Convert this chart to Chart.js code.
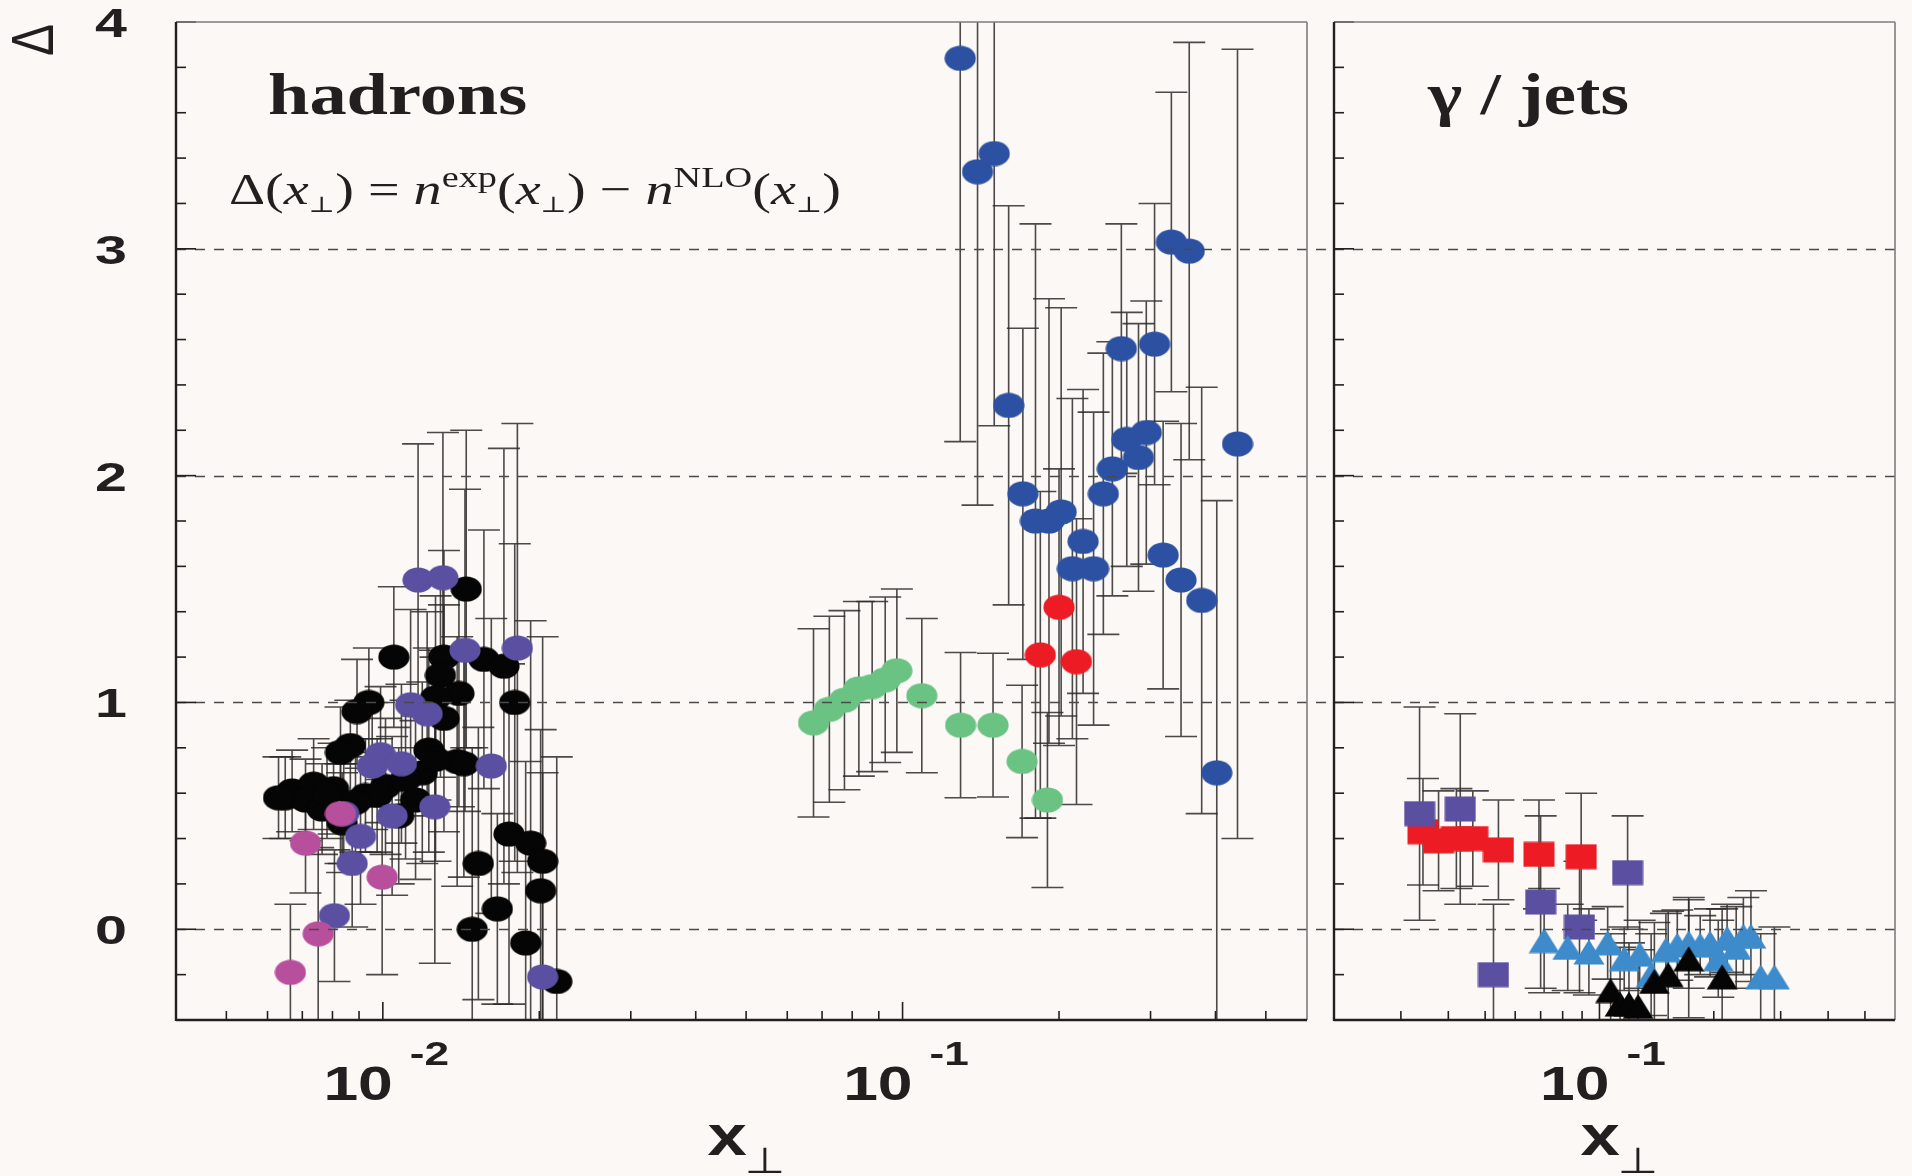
<!DOCTYPE html>
<html>
<head>
<meta charset="utf-8">
<title>Δ(x⊥) — hadrons and γ / jets</title>
<script src="https://cdn.jsdelivr.net/npm/chart.js@4.4.1/dist/chart.umd.min.js"></script>
<style>
  html, body { margin: 0; padding: 0; background: #fbf8f5; }
  #wrap { position: relative; width: 1912px; height: 1176px; }
  canvas { position: absolute; left: 0; top: 0; }
</style>
</head>
<body>
<div id="wrap">
  <canvas id="hadronChart" width="1912" height="1176"></canvas>
  <canvas id="jetChart" width="1912" height="1176"></canvas>
</div>
<script>
// ---- hadrons: low-energy cluster (black / purple / magenta circles)
const hadronBlackX = [0.01447, 0.01050, 0.01311, 0.01291, 0.01565, 0.01710, 0.01401, 0.01263, 0.01794, 0.00940,
  0.00892, 0.01311, 0.00866, 0.00829, 0.01226, 0.01390, 0.01432, 0.01191, 0.00669, 0.00649,
  0.00736, 0.00804, 0.00710, 0.00764, 0.00926, 0.01012, 0.01106, 0.01156, 0.01073, 0.01749,
  0.01925, 0.02030, 0.01527, 0.02012, 0.01661, 0.01486, 0.01883, 0.02161, 0.00835, 0.00975,
  0.00886, 0.00630, 0.00781, 0.01263];
const hadronBlackY = [1.50, 1.20, 1.20, 1.12, 1.19, 1.16, 1.04, 1.02, 1.00, 1.00,
  0.96, 0.93, 0.81, 0.78, 0.79, 0.74, 0.73, 0.69, 0.61, 0.58,
  0.64, 0.62, 0.57, 0.53, 0.59, 0.63, 0.66, 0.57, 0.50, 0.42,
  0.38, 0.30, 0.29, 0.17, 0.09, 0.00, -0.06, -0.23, 0.47, 0.59,
  0.56, 0.58, 0.60, 0.75];
const hadronBlackErr = [0.70, 0.31, 0.47, 0.45, 0.57, 0.96, 0.50, 0.45, 0.70, 0.24,
  0.23, 0.50, 0.20, 0.20, 0.45, 0.55, 0.50, 0.40, 0.18, 0.18,
  0.20, 0.20, 0.18, 0.20, 0.25, 0.30, 0.35, 0.35, 0.30, 0.75,
  0.98, 0.99, 0.60, 0.71, 0.42, 0.80, 0.80, 0.99, 0.22, 0.25,
  0.22, 0.18, 0.20, 0.45];

const hadronPurpleX = [0.01169, 0.01305, 0.01439, 0.01815, 0.01131, 0.01217, 0.00990, 0.00954, 0.01086,
  0.01617, 0.01259, 0.01042, 0.00906, 0.00873, 0.00807, 0.02030, 0.00841];
const hadronPurpleY = [1.54, 1.55, 1.23, 1.24, 0.99, 0.95, 0.77, 0.72, 0.73,
  0.72, 0.54, 0.50, 0.41, 0.29, 0.06, -0.21, 0.51];
const hadronPurpleErr = [0.60, 0.64, 0.71, 0.99, 0.42, 0.45, 0.30, 0.28, 0.35,
  0.65, 0.69, 0.35, 0.30, 0.28, 0.29, 0.90, 0.22];

const hadronMagentaX = [0.00664, 0.00751, 0.00710, 0.00829, 0.00997];
const hadronMagentaY = [-0.19, -0.02, 0.38, 0.51, 0.23];
const hadronMagentaErr = [0.30, 0.38, 0.22, 0.22, 0.43];

// ---- hadrons: higher x (green, red, blue circles)
const hadronGreenX = [0.0674, 0.0723, 0.0773, 0.0824, 0.0874, 0.0926, 0.0975, 0.1089, 0.1293, 0.1493, 0.1698, 0.1900];
const hadronGreenY = [0.91, 0.97, 1.01, 1.06, 1.07, 1.10, 1.14, 1.03, 0.90, 0.90, 0.74, 0.57];
const hadronGreenErr = [0.415, 0.41, 0.395, 0.385, 0.375, 0.365, 0.36, 0.34, 0.32, 0.317, 0.336, 0.386];

const hadronRedX = [0.2000, 0.1841, 0.2161];
const hadronRedY = [1.42, 1.21, 1.18];
const hadronRedErr = [0.61, 0.72, 0.63];

const hadronBlueX = [0.1291, 0.1394, 0.1501, 0.1600, 0.1704, 0.1802, 0.1913, 0.2019, 0.2225, 0.2122,
  0.2331, 0.2434, 0.2533, 0.2700, 0.2844, 0.2944, 0.2636, 0.3054, 0.3290, 0.3561,
  0.3172, 0.3434, 0.3763, 0.4023, 0.4410];
const hadronBlueY = [3.84, 3.34, 3.42, 2.31, 1.92, 1.80, 1.80, 1.84, 1.71, 1.59,
  1.59, 1.92, 2.03, 2.16, 2.08, 2.19, 2.56, 2.58, 3.03, 2.99,
  1.65, 1.54, 1.45, 0.69, 2.14];
const hadronBlueErr = [1.69, 1.47, 1.20, 0.88, 0.73, 1.31, 0.98, 0.90, 0.67, 0.75,
  0.69, 0.62, 0.56, 0.56, 0.59, 0.58, 0.55, 0.62, 0.66, 0.92,
  0.59, 0.69, 0.94, 1.20, 1.74];

// ---- γ / jets
const jetPurpleX = [0.0336, 0.0430, 0.0526, 0.0700, 0.0886, 0.1186];
const jetPurpleY = [0.51, 0.53, -0.20, 0.12, 0.01, 0.25];
const jetPurpleErr = [0.47, 0.42, 0.31, 0.38, 0.29, 0.25];

const jetRedX = [0.0343, 0.0377, 0.0420, 0.0464, 0.0542, 0.0693, 0.0895];
const jetRedY = [0.43, 0.39, 0.40, 0.40, 0.35, 0.33, 0.32];
const jetRedErr = [0.235, 0.22, 0.22, 0.21, 0.22, 0.24, 0.28];

const photonBlueX = [0.0715, 0.0825, 0.0938, 0.1051, 0.1162, 0.1276, 0.1368, 0.1496, 0.1603, 0.1718,
  0.1842, 0.1955, 0.2055, 0.2168, 0.2291, 0.2393, 0.2505, 0.2658, 0.2888];
const photonBlueY = [-0.05, -0.08, -0.10, -0.06, -0.13, -0.11, -0.20, -0.09, -0.07, -0.06,
  -0.07, -0.06, -0.13, -0.04, -0.08, -0.03, -0.03, -0.21, -0.21];
const photonBlueErr = [0.23, 0.19, 0.19, 0.16, 0.14, 0.15, 0.18, 0.16, 0.155, 0.20,
  0.13, 0.15, 0.17, 0.15, 0.18, 0.17, 0.20, 0.19, 0.22];

const photonBlackX = [0.1070, 0.1133, 0.1196, 0.1264, 0.1395, 0.1517, 0.1718, 0.2104];
const photonBlackY = [-0.27, -0.33, -0.33, -0.34, -0.23, -0.20, -0.13, -0.21];
const photonBlackErr = [0.25, 0.25, 0.27, 0.25, 0.26, 0.28, 0.26, 0.30];

// ---- axes
const yMinorTicks = [-0.4, -0.2, 0, 0.2, 0.4, 0.6, 0.8, 1, 1.2, 1.4, 1.6, 1.8, 2,
  2.2, 2.4, 2.6, 2.8, 3, 3.2, 3.4, 3.6, 3.8, 4];
const yLabelValues = [0, 1, 2, 3, 4];
const dashedLevels = [0, 1, 2, 3];
const hadronXMinor = [0.004, 0.005, 0.006, 0.007, 0.008, 0.009, 0.02, 0.03, 0.04, 0.05,
  0.06, 0.07, 0.08, 0.09, 0.2, 0.3, 0.4, 0.5];
const hadronDecades = [0.01, 0.1];
const hadronDecadeExp = ['-2', '-1'];
const jetXMinor = [0.03, 0.04, 0.05, 0.06, 0.07, 0.08, 0.09, 0.2, 0.3, 0.4, 0.5];
const jetDecades = [0.1];
const jetDecadeExp = ['-1'];

const ink = '#231f20';

const pts = (xs, ys) => xs.map((x, i) => ({ x, y: ys[i] }));

// filled marker sprites (ROOT-style markers, slightly wide)
function marker(shape, color) {
  const c = document.createElement('canvas');
  c.width = 32; c.height = 26;
  const g = c.getContext('2d');
  g.fillStyle = color;
  g.beginPath();
  if (shape === 'ellipse') g.ellipse(16, 13, 15.6, 12.6, 0, 0, Math.PI * 2);
  else if (shape === 'square') g.rect(0.5, 0.5, 31, 25);
  else { g.moveTo(16, 0.5); g.lineTo(31.5, 25.5); g.lineTo(0.5, 25.5); g.closePath(); }
  g.fill();
  return c;
}

function series(xs, ys, errs, sprite) {
  return { data: pts(xs, ys), errors: errs, pointStyle: sprite, pointRadius: 16, pointHoverRadius: 16 };
}

function textAt(ctx, str, x, y, font, sx, align) {
  ctx.save();
  ctx.font = font;
  ctx.fillStyle = ink;
  ctx.textAlign = align || 'left';
  ctx.textBaseline = 'alphabetic';
  ctx.translate(x, y);
  ctx.scale(sx, 1);
  ctx.fillText(str, 0, 0);
  ctx.restore();
}

function drawPow(ctx, px, bottom, exp) {
  textAt(ctx, '10', px + 10, bottom + 80, 'bold 48px "Liberation Sans"', 1.3, 'right');
  textAt(ctx, exp, px + 27, bottom + 45, 'bold 34px "Liberation Sans"', 1.3, 'left');
}

function drawXTitle(ctx, cx, bottom) {
  textAt(ctx, 'x', cx - 34, bottom + 135, 'bold 58px "Liberation Sans"', 1.22, 'left');
  textAt(ctx, '\u22a5', cx + 3, bottom + 153, '36px "DejaVu Sans"', 1.3, 'left');
}

function drawFormula(ctx, x0, base, targetWidth) {
  const roman = s => s + 'px "Liberation Serif"';
  const ital = s => 'italic ' + s + 'px "Liberation Serif"';
  const perp = s => s + 'px "DejaVu Serif"';
  const arg = [['(', roman(44), 0], ['x', ital(44), 0], ['\u22a5', perp(22), 8], [')', roman(44), 0]];
  const pieces = [['\u0394', roman(44), 0], ...arg, [' = ', roman(44), 0],
    ['n', ital(44), 0], ['exp', roman(30), -17], ...arg, [' \u2212 ', roman(44), 0],
    ['n', ital(44), 0], ['NLO', roman(30), -17], ...arg];
  let w = 0;
  pieces.forEach(p => { ctx.font = p[1]; w += ctx.measureText(p[0]).width; });
  ctx.save();
  ctx.translate(x0, base);
  ctx.scale(targetWidth / w, 1);
  ctx.fillStyle = ink;
  ctx.textBaseline = 'alphabetic';
  let cx = 0;
  pieces.forEach(p => {
    ctx.font = p[1];
    ctx.fillText(p[0], cx, p[2]);
    cx += ctx.measureText(p[0]).width;
  });
  ctx.restore();
}

// vertical error bars with caps, under the markers
const errorBars = {
  id: 'errorBars',
  beforeDatasetsDraw(chart) {
    const { ctx, chartArea: a, scales: { y } } = chart;
    ctx.save();
    ctx.beginPath();
    ctx.rect(a.left, a.top, a.right - a.left, a.bottom - a.top);
    ctx.clip();
    ctx.strokeStyle = 'rgba(45,42,42,0.85)';
    ctx.lineWidth = 1.6;
    chart.data.datasets.forEach((ds, i) => {
      chart.getDatasetMeta(i).data.forEach((pt, j) => {
        const v = ds.data[j].y, e = ds.errors[j];
        const top = y.getPixelForValue(v + e), bot = y.getPixelForValue(v - e);
        ctx.beginPath();
        ctx.moveTo(pt.x, top); ctx.lineTo(pt.x, bot);
        ctx.moveTo(pt.x - 16, top); ctx.lineTo(pt.x + 16, top);
        ctx.moveTo(pt.x - 16, bot); ctx.lineTo(pt.x + 16, bot);
        ctx.stroke();
      });
    });
    ctx.restore();
  }
};

// frame, inward ticks, dashed levels and labels of one panel
function panelFrame(xMinor, xMajor, gridOverhang, drawLabels) {
  return {
    id: 'panelFrame',
    afterDatasetsDraw(chart) {
      const { ctx, chartArea: a, scales: { x, y } } = chart;
      const seg = (x1, y1, x2, y2) => { ctx.beginPath(); ctx.moveTo(x1, y1); ctx.lineTo(x2, y2); ctx.stroke(); };
      ctx.save();
      ctx.setLineDash([10, 9]);
      ctx.strokeStyle = '#4a4a4a';
      ctx.lineWidth = 1.3;
      dashedLevels.forEach(v => {
        const py = Math.round(y.getPixelForValue(v)) + 0.5;
        seg(a.left, py, a.right + gridOverhang, py);
      });
      ctx.setLineDash([]);
      ctx.strokeStyle = ink;
      ctx.lineWidth = 1.6;
      yMinorTicks.forEach(v => {
        const py = y.getPixelForValue(v);
        seg(a.left, py, a.left + (yLabelValues.includes(v) ? 20 : 10), py);
      });
      xMinor.forEach(v => { const px = x.getPixelForValue(v); seg(px, a.bottom, px, a.bottom - 9); });
      xMajor.forEach(v => { const px = x.getPixelForValue(v); seg(px, a.bottom, px, a.bottom - 18); });
      ctx.strokeStyle = '#7d7d7d';
      ctx.lineWidth = 1.6;
      seg(a.left, a.top, a.right, a.top);
      seg(a.right, a.top, a.right, a.bottom);
      ctx.strokeStyle = ink;
      ctx.lineWidth = 2.4;
      seg(a.left, a.top, a.left, a.bottom + 1);
      seg(a.left, a.bottom, a.right, a.bottom);
      ctx.restore();
    },
    afterDraw(chart) {
      drawLabels(chart.ctx, chart.chartArea, chart.scales);
    }
  };
}

function panel(canvasId, area, xMin, xMax, datasets, plugin) {
  return new Chart(document.getElementById(canvasId), {
    type: 'scatter',
    data: { datasets },
    options: {
      responsive: false,
      devicePixelRatio: 1,
      animation: false,
      events: [],
      layout: { padding: { left: area.left, right: 1912 - area.right, top: 22, bottom: 1176 - 1020 } },
      scales: {
        x: { type: 'logarithmic', min: xMin, max: xMax, display: false },
        y: { type: 'linear', min: -0.4, max: 4, display: false }
      },
      plugins: { legend: { display: false }, tooltip: { enabled: false } }
    },
    plugins: [errorBars, plugin]
  });
}

const hadronSets = [
  series(hadronMagentaX, hadronMagentaY, hadronMagentaErr, marker('ellipse', '#b84f9c')),
  series(hadronPurpleX, hadronPurpleY, hadronPurpleErr, marker('ellipse', '#5a4fa0')),
  series(hadronBlackX, hadronBlackY, hadronBlackErr, marker('ellipse', '#050505')),
  series(hadronBlueX, hadronBlueY, hadronBlueErr, marker('ellipse', '#2c51a2')),
  series(hadronRedX, hadronRedY, hadronRedErr, marker('ellipse', '#ed1c24')),
  series(hadronGreenX, hadronGreenY, hadronGreenErr, marker('ellipse', '#6bc383'))
];

const jetSets = [
  series(photonBlackX, photonBlackY, photonBlackErr, marker('triangle', '#050505')),
  series(photonBlueX, photonBlueY, photonBlueErr, marker('triangle', '#3d8bcb')),
  series(jetPurpleX, jetPurpleY, jetPurpleErr, marker('square', '#5a4fa0')),
  series(jetRedX, jetRedY, jetRedErr, marker('square', '#ed1c24'))
];

panel('hadronChart', { left: 176, right: 1307 }, 0.004, 0.6, hadronSets,
  panelFrame(hadronXMinor, hadronDecades, 27, (ctx, a, s) => {
    yLabelValues.forEach(v => {
      textAt(ctx, String(v), a.left - 49, s.y.getPixelForValue(v) + 15, 'bold 41px "Liberation Sans"', 1.4, 'right');
    });
    hadronDecades.forEach((v, i) => drawPow(ctx, s.x.getPixelForValue(v), a.bottom, hadronDecadeExp[i]));
    drawXTitle(ctx, (a.left + a.right) / 2, a.bottom);
    // rotated Δ as the y-axis title
    ctx.save();
    ctx.translate(a.left - 140, a.top + 18);
    ctx.scale(1.25, 1);
    ctx.rotate(-Math.PI / 2);
    ctx.font = '48px "Liberation Sans"';
    ctx.fillStyle = ink;
    ctx.textAlign = 'center';
    ctx.textBaseline = 'middle';
    ctx.fillText('\u0394', 0, 0);
    ctx.restore();
    textAt(ctx, 'hadrons', a.left + 92, a.top + 92, 'bold 60px "Liberation Serif"', 1.24, 'left');
    drawFormula(ctx, a.left + 53, a.top + 182, 612);
  }));

panel('jetChart', { left: 1334, right: 1905 }, 0.02, 0.6, jetSets,
  panelFrame(jetXMinor, jetDecades, 0, (ctx, a, s) => {
    jetDecades.forEach((v, i) => drawPow(ctx, s.x.getPixelForValue(v), a.bottom, jetDecadeExp[i]));
    drawXTitle(ctx, (a.left + a.right) / 2, a.bottom);
    textAt(ctx, '\u03b3 / jets', a.left + 94, a.top + 92, 'bold 60px "Liberation Serif"', 1.22, 'left');
  }));
</script>
</body>
</html>
